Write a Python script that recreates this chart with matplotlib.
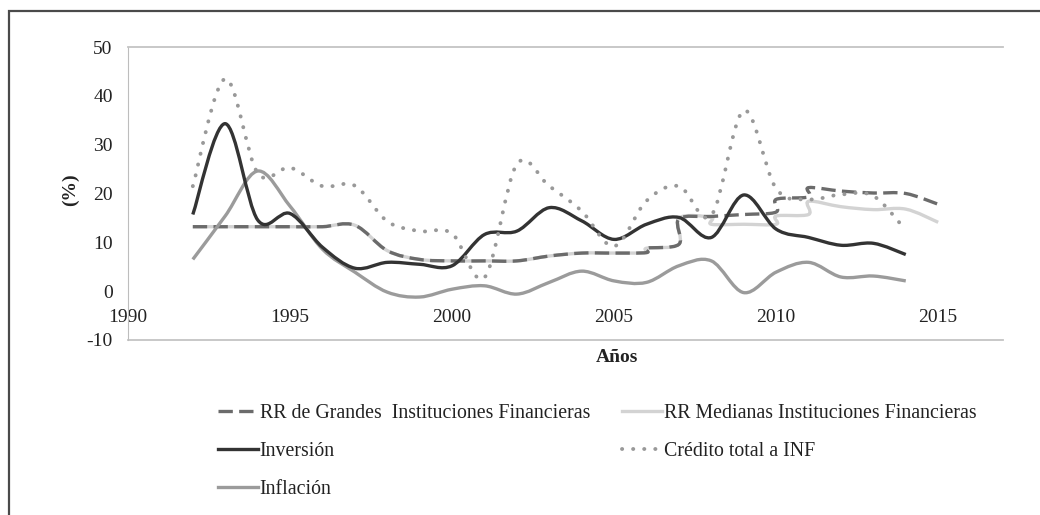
import numpy as np
import matplotlib
matplotlib.use("Agg")
import matplotlib.pyplot as plt
from matplotlib.path import Path
from matplotlib.patches import PathPatch, Rectangle
from matplotlib.lines import Line2D

plt.rcParams['font.family'] = ['Liberation Serif', 'DejaVu Serif']
plt.rcParams['axes.unicode_minus'] = False

# RR de Grandes Instituciones Financieras (repeated years = jumps in the series)
grandes_years = [1992, 1993, 1994, 1995, 1996, 1997, 1998, 1999, 2000, 2001, 2002, 2003,
                 2004, 2005, 2006, 2006, 2007, 2007, 2008, 2009, 2010, 2010, 2011, 2011,
                 2012, 2013, 2014, 2015]
grandes_vals = [13.2, 13.2, 13.2, 13.2, 13.2, 13.5, 8.3, 6.5, 6.2, 6.2, 6.2, 7.2,
                7.8, 7.8, 7.9, 8.8, 9.6, 14.8, 15.3, 15.7, 16.2, 18.8, 19.3, 21.2,
                20.5, 20.1, 20.0, 17.8]

# RR Medianas Instituciones Financieras
medianas_years = [1992, 1993, 1994, 1995, 1996, 1997, 1998, 1999, 2000, 2001, 2002, 2003,
                  2004, 2005, 2006, 2006, 2007, 2007, 2008, 2008, 2009, 2010, 2010, 2011,
                  2011, 2012, 2013, 2014, 2015]
medianas_vals = [13.2, 13.2, 13.2, 13.2, 13.2, 13.5, 8.3, 6.5, 6.2, 6.2, 6.2, 7.2,
                 7.8, 7.8, 7.9, 8.8, 9.6, 15.0, 15.1, 13.7, 13.7, 13.7, 15.4, 15.7,
                 18.4, 17.3, 16.7, 16.8, 14.1]

years = list(range(1992, 2015))
inversion = [15.7, 34.3, 14.6, 15.9, 9.0, 4.7, 5.9, 5.5, 5.2, 11.6, 12.3, 17.1,
             14.4, 10.6, 13.7, 15.1, 11.0, 19.7, 12.7, 11.0, 9.4, 9.8, 7.5]
credito = [21.5, 43.5, 24.2, 25.3, 21.5, 21.6, 14.3, 12.3, 11.8, 2.8, 26.0, 21.5,
           16.4, 9.2, 18.5, 21.5, 15.5, 37.0, 21.0, 18.8, 19.8, 19.5, 12.5]
inflacion = [6.5, 15.4, 24.6, 17.4, 8.6, 3.9, -0.2, -1.2, 0.4, 1.1, -0.6, 1.8,
             4.1, 2.1, 1.8, 5.2, 6.2, -0.3, 3.9, 5.9, 2.9, 3.1, 2.1]

xticks = [1990, 1995, 2000, 2005, 2010, 2015]
yticks = [-10, 0, 10, 20, 30, 40, 50]


def smooth_path(x, y):
    # Bezier path through the data points (like Excel's smoothed line)
    pts = np.column_stack([x, y]).astype(float)
    n = len(pts)
    verts = [pts[0]]
    codes = [Path.MOVETO]
    for i in range(n - 1):
        p0 = pts[i - 1] if i > 0 else pts[i]
        p1, p2 = pts[i], pts[i + 1]
        p3 = pts[i + 2] if i + 2 < n else pts[i + 1]
        verts += [p1 + (p2 - p0) / 6, p2 - (p3 - p1) / 6, p2]
        codes += [Path.CURVE4] * 3
    return Path(verts, codes)


fig = plt.figure(figsize=(10.4, 5.15), dpi=100)
ax = fig.add_axes([128 / 1040, 1 - 340 / 515, (1003 - 128) / 1040, (340 - 47) / 515])

dash = (0, (4.3, 1.9))
dots = (0, (0.05, 2.8))
styles = {
    'grandes': dict(color='#6b6b6b', lw=2.4, ls=dash),
    'medianas': dict(color='#d3d3d3', lw=2.4, ls='-'),
    'inversion': dict(color='#333333', lw=2.4, ls='-'),
    'credito': dict(color='#999999', lw=2.8, ls=dots),
    'inflacion': dict(color='#9b9b9b', lw=2.4, ls='-'),
}

series = [
    ('medianas', medianas_years, medianas_vals, 2),
    ('grandes', grandes_years, grandes_vals, 3),
    ('inflacion', years, inflacion, 4),
    ('inversion', years, inversion, 5),
    ('credito', years, credito, 6),
]
for key, xs, ys, z in series:
    st = styles[key]
    p = PathPatch(smooth_path(xs, ys), fill=False, edgecolor=st['color'],
                  lw=st['lw'], linestyle=st['ls'], zorder=z)
    p.set_capstyle('round' if key == 'credito' else 'butt')
    p.set_joinstyle('round')
    ax.add_patch(p)

ax.set_xlim(1990, 2017)
ax.set_ylim(-10, 50)
ax.set_xticks(xticks)
ax.set_yticks(yticks)
ax.tick_params(length=0, labelsize=14, colors='#222222')
ax.tick_params(axis='x', pad=13)
ax.tick_params(axis='y', pad=11)
ax.spines['bottom'].set_position(('data', 0))
ax.spines['bottom'].set_color('none')
ax.spines['right'].set_visible(False)
ax.spines['left'].set_color('#bdbdbd')
ax.spines['top'].set_color('#c4c4c4')
ax.spines['top'].set_linewidth(1.3)
ax.axhline(-10, color='#c4c4c4', lw=1.3, clip_on=False)

fig.text(70 / 1040, 1 - 190 / 515, '(%)', rotation=90, ha='center', va='center',
         fontsize=14, fontweight='bold', color='#222222')
fig.text(617 / 1040, 1 - 357 / 515, 'Años', ha='center', va='center',
         fontsize=14, fontweight='bold', color='#222222')

labels = {
    'grandes': 'RR de Grandes  Instituciones Financieras',
    'medianas': 'RR Medianas Instituciones Financieras',
    'inversion': 'Inversión',
    'credito': 'Crédito total a INF',
    'inflacion': 'Inflación',
}
order = ['grandes', 'inversion', 'inflacion', 'medianas', 'credito']
handles = []
for key in order:
    st = styles[key]
    h = Line2D([], [], color=st['color'], lw=st['lw'], ls=st['ls'],
               dash_capstyle='round' if key == 'credito' else 'butt')
    handles.append(h)
fig.legend(handles, [labels[k] for k in order], ncol=2, loc='upper left',
           bbox_to_anchor=(218 / 1040, 1 - 404 / 515), frameon=False,
           fontsize=14.3, handlelength=2.0, handletextpad=0.1, columnspacing=1.6,
           labelspacing=0.95, borderpad=0, borderaxespad=0, labelcolor='#222222')

fig.add_artist(Rectangle((9 / 1040, -0.1), 1.2, 1.1 - 11 / 515, fill=False,
                         edgecolor='#4a4a4a', lw=1.6, transform=fig.transFigure))

fig.savefig('out.png', dpi=100)
